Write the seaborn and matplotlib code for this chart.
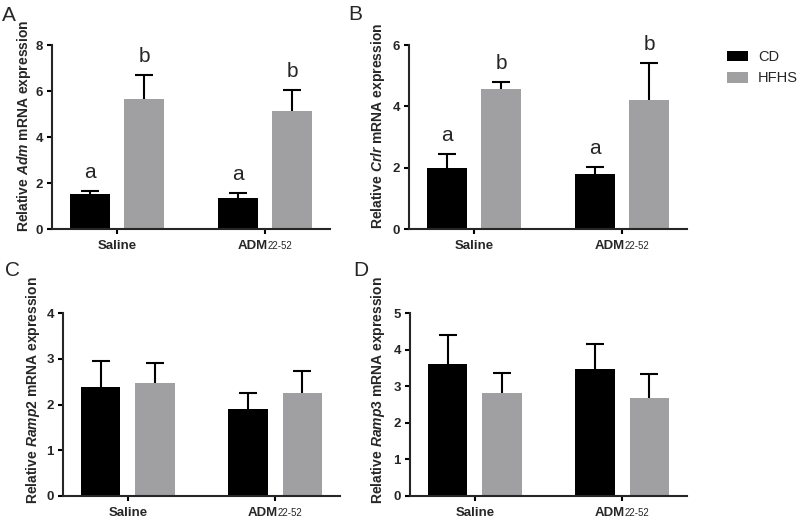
import matplotlib
matplotlib.use('Agg')
import matplotlib.pyplot as plt
import seaborn as sns
import pandas as pd

# Data (mean and upper error, per diet, Saline / ADM22-52)
treatments = ['Saline', 'ADM22-52']
diets = ['CD', 'HFHS']

adm_cd = [1.54, 1.36]
adm_cd_err = [0.11, 0.21]
adm_hfhs = [5.65, 5.12]
adm_hfhs_err = [1.04, 0.91]

crlr_cd = [1.99, 1.80]
crlr_cd_err = [0.47, 0.23]
crlr_hfhs = [4.55, 4.22]
crlr_hfhs_err = [0.25, 1.18]

ramp2_cd = [2.38, 1.90]
ramp2_cd_err = [0.58, 0.35]
ramp2_hfhs = [2.48, 2.25]
ramp2_hfhs_err = [0.43, 0.48]

ramp3_cd = [3.61, 3.48]
ramp3_cd_err = [0.80, 0.67]
ramp3_hfhs = [2.81, 2.67]
ramp3_hfhs_err = [0.55, 0.65]

# significance letters (A and B only)
adm_letters = [['a', 'a'], ['b', 'b']]
crlr_letters = [['a', 'a'], ['b', 'b']]

colors = {'CD': 'black', 'HFHS': '#a09fa4'}

sns.set_style('ticks')
plt.rcParams['font.family'] = ['Liberation Sans', 'DejaVu Sans']
plt.rcParams['mathtext.fontset'] = 'custom'
plt.rcParams['mathtext.rm'] = 'Liberation Sans:bold'
plt.rcParams['mathtext.bf'] = 'Liberation Sans:bold'
plt.rcParams['mathtext.it'] = 'Liberation Sans:italic:bold'
plt.rcParams['axes.linewidth'] = 1.5

fig = plt.figure(figsize=(8, 5.29), dpi=100)


def plot_panel(rect, cd, cd_err, hfhs, hfhs_err, gene, ymax, ystep, lab_xy, letters=None, legend=False):
    ax = fig.add_axes(rect)
    df = pd.DataFrame({
        'treatment': treatments * 2,
        'diet': ['CD'] * 2 + ['HFHS'] * 2,
        'value': cd + hfhs,
    })
    sns.barplot(data=df, x='treatment', y='value', hue='diet', order=treatments,
                hue_order=diets, palette=colors, width=0.74, gap=0.27,
                errorbar=None, linewidth=0, ax=ax, legend=legend)

    # error bars (upper half only visible, lower half hidden behind the bar)
    for i, (cont, errs) in enumerate(zip(ax.containers, [cd_err, hfhs_err])):
        xs = [b.get_x() + b.get_width() / 2 for b in cont]
        ys = [b.get_height() for b in cont]
        ax.errorbar(xs, ys, yerr=errs, fmt='none', ecolor='black', elinewidth=1.5,
                    capsize=6.8, capthick=1.5, zorder=0.5)
        if letters is not None:
            for x, y, e, t in zip(xs, ys, errs, letters[i]):
                ax.annotate(t, xy=(x, y + e), xytext=(0, 9.4), textcoords='offset points',
                            ha='center', va='baseline', fontsize=15)

    ax.set_xlim(-0.44, 1.44)
    ax.set_ylim(0, ymax)
    ax.set_yticks([v * ystep for v in range(int(round(ymax / ystep)) + 1)])
    ax.set_xticks([0, 1])
    ax.set_xticklabels(['', ''])
    for lbl in ax.get_yticklabels():
        lbl.set_fontweight('bold')
    ax.tick_params(axis='both', direction='out', length=3.5, width=1.5, labelsize=9.5, pad=3,
                   color='black')
    sns.despine(ax=ax)

    # x labels: "Saline" and "ADM" with smaller non-bold 22-52
    ax.annotate('Saline', xy=(0, 0), xycoords=('data', 'axes fraction'), xytext=(0, -14.5),
                textcoords='offset points', ha='center', va='baseline', fontsize=9.5,
                fontweight='bold')
    ax.annotate('ADM', xy=(1, 0), xycoords=('data', 'axes fraction'), xytext=(1.8, -14.5),
                textcoords='offset points', ha='right', va='baseline', fontsize=9.5,
                fontweight='bold')
    ax.annotate('22-52', xy=(1, 0), xycoords=('data', 'axes fraction'), xytext=(1.8, -14.5),
                textcoords='offset points', ha='left', va='baseline', fontsize=7)

    ax.set_xlabel('')
    ax.set_ylabel('Relative $\\mathit{' + gene + '}$ mRNA expression', fontsize=10,
                  fontweight='bold')
    ax.yaxis.set_label_coords(*lab_xy)
    return ax


axA = plot_panel([52 / 800, 1 - 229 / 529, 278 / 800, 184 / 529], adm_cd, adm_cd_err,
                 adm_hfhs, adm_hfhs_err, 'Adm', 8, 2, (-0.068, 0.56), letters=adm_letters)
axB = plot_panel([409 / 800, 1 - 229 / 529, 278 / 800, 184 / 529], crlr_cd, crlr_cd_err,
                 crlr_hfhs, crlr_hfhs_err, 'Crlr', 6, 2, (-0.079, 0.56), letters=crlr_letters,
                 legend=True)
axC = plot_panel([63 / 800, 1 - 496 / 529, 277 / 800, 183 / 529], ramp2_cd, ramp2_cd_err,
                 ramp2_hfhs, ramp2_hfhs_err, 'Ramp2', 4, 1, (-0.076, 0.58))
axD = plot_panel([410 / 800, 1 - 496 / 529, 277 / 800, 183 / 529], ramp3_cd, ramp3_cd_err,
                 ramp3_hfhs, ramp3_hfhs_err, 'Ramp3', 5, 1, (-0.083, 0.58))

sns.move_legend(axB, loc='upper left', bbox_to_anchor=((727 - 409) / 278, (229 - 50) / 184),
                frameon=False, title=None, fontsize=10.5, handlelength=1.44, handleheight=0.76,
                handletextpad=0.69, labelspacing=0.5, borderpad=0, borderaxespad=0)

for t, x, y in [('A', 2, 6), ('B', 348, 5), ('C', 5, 261), ('D', 353, 261)]:
    fig.text(x / 800, 1 - y / 529, t, ha='left', va='top', fontsize=15)

fig.savefig('out.png', dpi=100)
